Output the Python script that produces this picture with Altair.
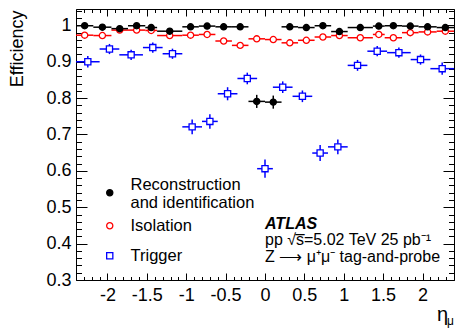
import altair as alt
import numpy as np
import pandas as pd

# Muon eta binning for reconstruction+identification and isolation
reco_edges = [-2.4, -2.18, -1.95, -1.74, -1.52, -1.37, -1.05, -0.84, -0.63, -0.42, -0.21, 0.0,
              0.21, 0.42, 0.63, 0.84, 1.05, 1.37, 1.52, 1.74, 1.95, 2.18, 2.4]
reco_eff = [0.999, 0.995, 0.991, 0.999, 0.994, 0.984, 0.996, 0.998, 0.996, 0.996, 0.791,
            0.789, 0.996, 0.994, 0.999, 0.983, 0.994, 0.998, 0.999, 0.998, 0.996, 0.994]
reco_err = [0.002, 0.002, 0.002, 0.002, 0.002, 0.002, 0.002, 0.002, 0.002, 0.002, 0.018,
            0.018, 0.002, 0.002, 0.002, 0.002, 0.002, 0.002, 0.002, 0.002, 0.002, 0.002]
iso_eff = [0.973, 0.972, 0.987, 0.987, 0.986, 0.972, 0.973, 0.975, 0.957, 0.945, 0.963,
           0.961, 0.952, 0.959, 0.968, 0.972, 0.966, 0.975, 0.966, 0.980, 0.982, 0.984]
iso_err = [0.004] * 22

# Trigger binning
trig_edges = [-2.4, -2.1, -1.85, -1.55, -1.3, -1.05, -0.8, -0.6, -0.35, -0.1, 0.1,
              0.35, 0.6, 0.8, 1.05, 1.3, 1.55, 1.85, 2.1, 2.4]
trig_eff = [0.900, 0.935, 0.919, 0.939, 0.922, 0.721, 0.736, 0.812, 0.854, 0.606,
            0.830, 0.805, 0.649, 0.666, 0.890, 0.929, 0.925, 0.906, 0.881]
trig_err = [0.016, 0.014, 0.014, 0.014, 0.014, 0.020, 0.020, 0.018, 0.016, 0.025,
            0.016, 0.016, 0.022, 0.020, 0.015, 0.014, 0.014, 0.014, 0.017]

series_names = ["Reconstruction and identification", "Isolation", "Trigger"]
series_stroke = ["#000000", "#ff0000", "#0000ff"]
series_fill = ["#000000", "#ffffff", "#ffffff"]
series_shape = ["circle", "circle", "square"]

# x tick labels and tick positions
x_label_values = [-2, -1.5, -1, -0.5, 0, 0.5, 1, 1.5, 2]
y_label_values = [0.3, 0.4, 0.5, 0.6, 0.7, 0.8, 0.9, 1.0]
x_tick_values = [round(v, 2) for v in np.arange(-24, 25) / 10]
y_tick_values = [round(v, 2) for v in np.arange(15, 53) * 0.02]

FONT = "Liberation Sans"
W, H = 378, 271


def rows(name, color, edges, eff, err):
    out = []
    for i, (v, e) in enumerate(zip(eff, err)):
        lo, hi = edges[i], edges[i + 1]
        out.append(dict(series=name, col=color, lo=lo, hi=hi, eta=(lo + hi) / 2,
                        eff=v, elo=v - e, ehi=v + e))
    return out


records = (rows(series_names[2], series_stroke[2], trig_edges, trig_eff, trig_err)
           + rows(series_names[1], series_stroke[1], reco_edges, iso_eff, iso_err)
           + rows(series_names[0], series_stroke[0], reco_edges, reco_eff, reco_err))
df = pd.DataFrame(records)
df_reco = df[df.series == series_names[0]]
df_other = df[df.series != series_names[0]]

xscale = alt.Scale(domain=[-2.4, 2.4], nice=False, zero=False)
yscale = alt.Scale(domain=[0.3, 1.045], nice=False, zero=False)

x_major = "abs(datum.value * 2 - round(datum.value * 2)) < 0.001"
y_major = "abs(datum.value * 10 - round(datum.value * 10)) < 0.001"


def tick_axis(orient, offset, values, test, major, minor):
    return alt.Axis(orient=orient, offset=offset, values=values, labels=False, domain=False,
                    grid=False, title=None, tickColor="black", tickWidth=1,
                    tickSize={"condition": {"test": test, "value": major}, "value": minor})


# inward ticks on all four sides of the frame
ax_bottom = tick_axis("top", -H, x_tick_values, x_major, 7, 3.5)
ax_top = tick_axis("bottom", -H, x_tick_values, x_major, 7, 3.5)
ay_left = tick_axis("right", -W, y_tick_values, y_major, 11, 5.5)
ay_right = tick_axis("left", -W, y_tick_values, y_major, 11, 5.5)

ax_labels = alt.Axis(orient="bottom", values=x_label_values, ticks=False, domain=False, grid=False,
                     labelFont=FONT, labelFontSize=18, labelColor="black", labelPadding=6,
                     labelExpr="datum.value < 0 ? '-' + format(-datum.value, '~g') : format(datum.value, '~g')",
                     title="η", titleFont=FONT, titleFontSize=20, titleFontWeight="normal",
                     titleColor="black", titleX=366, titleY=40, titleAlign="center",
                     titleBaseline="alphabetic")
ay_labels = alt.Axis(orient="left", values=y_label_values, ticks=False, domain=False, grid=False,
                     labelFont=FONT, labelFontSize=18, labelColor="black", labelPadding=5,
                     labelExpr="format(datum.value, '~g')",
                     title="Efficiency", titleFont=FONT, titleFontSize=18, titleFontWeight="normal",
                     titleColor="black", titleAngle=270, titleX=-59, titleY=1, titleAlign="right",
                     titleBaseline="middle")

legend_style = dict(orient="none", title=None, padding=0, labelFont=FONT, labelFontSize=16.5,
                    labelColor="black", labelLimit=0, labelOffset=12.5, symbolSize=38,
                    symbolStrokeWidth=1.3)
legend_reco = alt.Legend(legendX=25.5, legendY=175.5, labelBaseline="bottom",
                         labelExpr="['Reconstruction', 'and identification']", **legend_style)
legend_other = alt.Legend(legendX=25.5, legendY=208.5, rowPadding=13, **legend_style)

hbars = alt.Chart(df).mark_rule(strokeWidth=1.5).encode(
    x=alt.X("lo:Q", scale=xscale, axis=ax_bottom),
    x2="hi:Q",
    y=alt.Y("eff:Q", scale=yscale, axis=ay_left),
    stroke=alt.Stroke("col:N", scale=None),
)

vbars = alt.Chart(df).mark_rule(strokeWidth=1.5).encode(
    x=alt.X("eta:Q", scale=xscale, axis=ax_top),
    y=alt.Y("elo:Q", scale=yscale, axis=ay_right),
    y2="ehi:Q",
    stroke=alt.Stroke("col:N", scale=None),
)


def marker_layer(data, names, x_axis, y_axis, legend):
    idx = [series_names.index(n) for n in names]
    return alt.Chart(data).mark_point(opacity=1, size=38, strokeWidth=1.3).encode(
        x=alt.X("eta:Q", scale=xscale, axis=x_axis),
        y=alt.Y("eff:Q", scale=yscale, axis=y_axis),
        stroke=alt.Stroke("series:N", legend=legend,
                          scale=alt.Scale(domain=names, range=[series_stroke[i] for i in idx])),
        fill=alt.Fill("series:N", legend=legend,
                      scale=alt.Scale(domain=names, range=[series_fill[i] for i in idx])),
        shape=alt.Shape("series:N", legend=legend,
                        scale=alt.Scale(domain=names, range=[series_shape[i] for i in idx])),
    )


points_other = marker_layer(df_other, series_names[1:], ax_labels, ay_labels, legend_other)
points_reco = marker_layer(df_reco, series_names[:1], None, None, legend_reco)

one = pd.DataFrame({"k": [0]})


def note(text, x, y, size=16, **kw):
    return alt.Chart(one).mark_text(text=text, font=FONT, fontSize=size, align="left",
                                    baseline="alphabetic", color="black", **kw).encode(
        x=alt.value(x), y=alt.value(y))


notes = [
    note("ATLAS", 189, 219.5, fontWeight="bold", fontStyle="italic"),
    note("pp √s\u0305=5.02 TeV 25 pb⁻¹", 189, 236),
    note("Z ⟶ μ⁺μ⁻ tag-and-probe", 189, 252.7),
    note("μ", 371, 316, size=12),
]

chart = alt.layer(hbars, vbars, points_other, points_reco, *notes).resolve_axis(
    x="independent", y="independent"
).resolve_scale(
    stroke="independent", fill="independent", shape="independent"
).properties(
    width=W, height=H,
    autosize=alt.AutoSizeParams(type="none"),
    padding={"left": 76, "top": 9, "right": 1, "bottom": 48},
).configure_view(stroke="black", strokeWidth=1).configure_axis(grid=False)

chart.save("out.html", embed_options={"renderer": "svg", "actions": False})
